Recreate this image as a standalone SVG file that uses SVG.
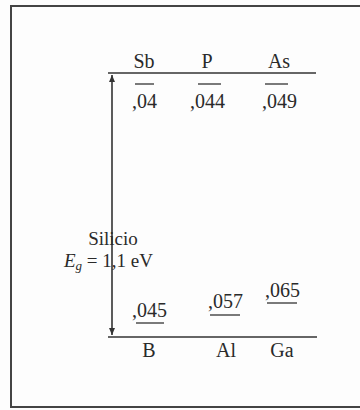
<svg xmlns="http://www.w3.org/2000/svg" width="360" height="410" viewBox="0 0 360 410">
<defs>
<style>
text{font-family:"Liberation Serif","Times New Roman",serif;font-size:20px;fill:#2a2a2a}
.lbl{text-anchor:middle}
.si{font-size:19px}
.ln{stroke:#333;stroke-width:1.6;fill:none}
.bar{stroke:#333;stroke-width:1.3;fill:none}
</style>
<marker id="ah" markerWidth="8" markerHeight="8" refX="7" refY="4" orient="auto" markerUnits="userSpaceOnUse">
<path d="M0,1 L7,4 L0,7 Z" fill="#333"/>
</marker>
</defs>
<rect x="0" y="0" width="360" height="410" fill="#fdfdfd"/>
<rect x="11" y="6" width="360" height="401" fill="none" stroke="#444" stroke-width="2"/>
<g id="connectors">
<line class="ln" x1="108" y1="73" x2="316" y2="73"/>
<line class="ln" x1="108" y1="337" x2="317" y2="337"/>
<line class="ln" x1="112" y1="200" x2="112" y2="75" marker-end="url(#ah)"/>
<line class="ln" x1="112" y1="200" x2="112" y2="335" marker-end="url(#ah)"/>
</g>
<g id="silicio">
<text class="lbl si" x="113" y="245">Silicio</text>
<text class="si" x="64" y="267"><tspan font-style="italic">E</tspan><tspan font-style="italic" font-size="13" dy="3">g</tspan><tspan dy="-3"> = 1,1 eV</tspan></text>
</g>
<g id="sb">
<text class="lbl" x="144" y="68">Sb</text>
<text x="132" y="108">,04</text>
<line class="bar" x1="135" y1="84" x2="154" y2="84"/>
</g>
<g id="p">
<text class="lbl" x="207" y="68">P</text>
<text x="190" y="108">,044</text>
<line class="bar" x1="198" y1="84" x2="221" y2="84"/>
</g>
<g id="as">
<text class="lbl" x="279" y="68">As</text>
<text x="262" y="108">,049</text>
<line class="bar" x1="265" y1="84" x2="288" y2="84"/>
</g>
<g id="b">
<text class="lbl" x="149" y="357">B</text>
<text x="132" y="317">,045</text>
<line class="bar" x1="136" y1="323" x2="164" y2="323"/>
</g>
<g id="al">
<text class="lbl" x="226" y="357">Al</text>
<text x="208" y="308">,057</text>
<line class="bar" x1="210" y1="315" x2="240" y2="315"/>
</g>
<g id="ga">
<text class="lbl" x="282" y="357">Ga</text>
<text x="265" y="297">,065</text>
<line class="bar" x1="267" y1="303" x2="297" y2="303"/>
</g>
</svg>
